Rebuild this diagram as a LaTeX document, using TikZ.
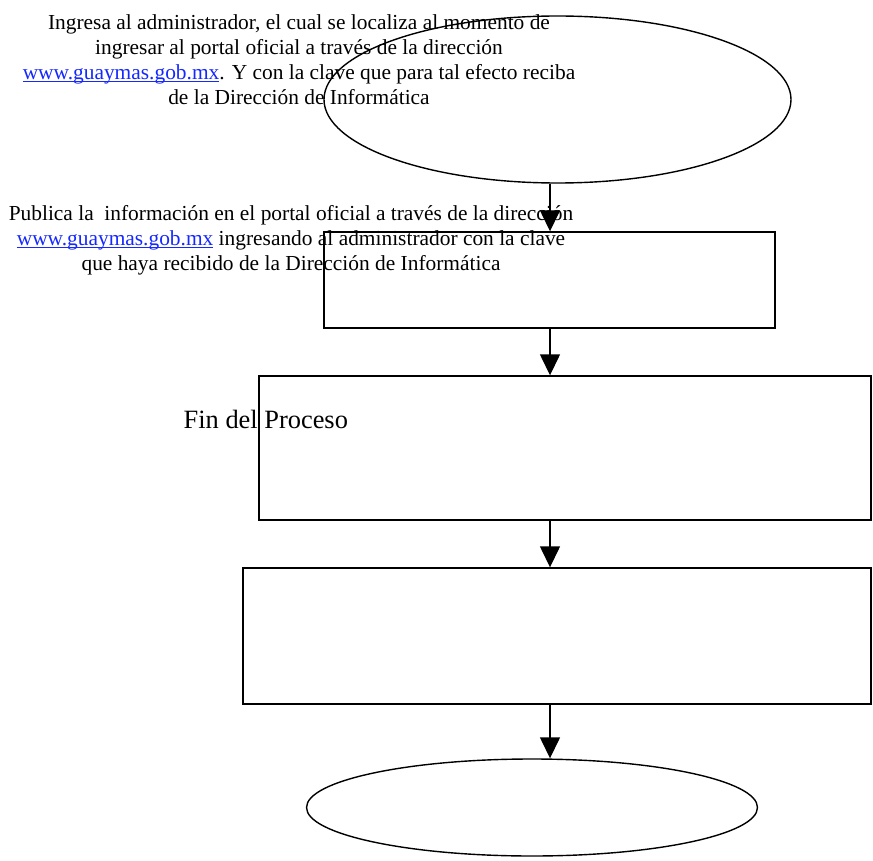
\documentclass[tikz,border=0pt]{standalone}
\usepackage{fontspec}
\setmainfont{Liberation Serif}
\usetikzlibrary{shapes.geometric,arrows.meta}

\definecolor{azulenlace}{RGB}{20,40,255}
% underlined link text, the rule runs through the descenders
\newcommand\enlace[1]{\textcolor{azulenlace}{\setbox0\hbox{#1}\rlap{\rule[-2.4pt]{\wd0}{0.9pt}}\box0}}

\begin{document}
\begin{tikzpicture}[x=1pt, y=-1pt, >={Triangle[width=20pt,length=21pt]}, line width=1.4pt,
    caja/.style={draw, rectangle, inner sep=0pt},
    ovalo/.style={draw, ellipse, inner sep=0pt},
    texto/.style={align=center, inner sep=0pt, line width=0pt, font=\fontsize{21.4}{25}\selectfont}]
        % ==== PAGE ====
        \useasboundingbox (0,0) rectangle (873,861);

        % ==== SHAPES ====
        \node[ovalo, minimum width=467pt, minimum height=167pt] (ini) at (557.5,99.5) {};
        \node[caja, minimum width=451pt, minimum height=96pt] (paso1) at (549.5,280) {};
        \node[caja, minimum width=612pt, minimum height=144pt] (paso2) at (565,448) {};
        \node[caja, minimum width=628pt, minimum height=136pt] (paso3) at (557,636) {};
        \node[ovalo, minimum width=451pt, minimum height=97pt] (fin) at (532,807.5) {};

        % ==== ARROWS ====
        \coordinate (eje) at (550,0);
        \draw[->] (ini.south -| eje) -- (paso1.north -| eje);
        \draw[->] (paso1.south -| eje) -- (paso2.north -| eje);
        \draw[->] (paso2.south -| eje) -- (paso3.north -| eje);
        \draw[->] (paso3.south -| eje) -- (fin.north -| eje);

        % === LABELS ===
        \node[texto, anchor=north] (txtini) at (299,15) {Ingresa al administrador, el cual se localiza al momento de\\
            ingresar al portal oficial a través de la dirección\\
            \enlace{www.guaymas.gob.mx}. Y con la clave que para tal efecto reciba\\
            de la Dirección de Informática};
        \node[texto, anchor=north] (txtpub) at (291,205.4) {Publica la~ información en el portal oficial a través de la dirección\\
            \enlace{www.guaymas.gob.mx} ingresando al administrador con la clave\\
            que haya recibido de la Dirección de Informática};
        \node[anchor=base west, inner sep=0pt, font=\fontsize{26.4}{32}\selectfont] (txtfin) at (183,428.3) {Fin del Proceso};

    \end{tikzpicture}
\end{document}
